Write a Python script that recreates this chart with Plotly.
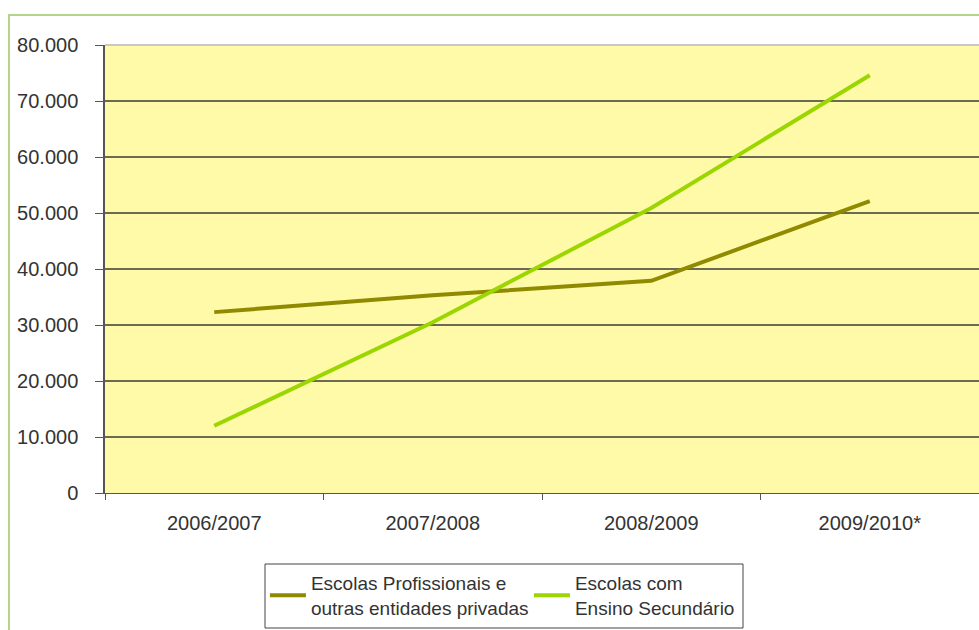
import plotly.graph_objects as go

categories = ["2006/2007", "2007/2008", "2008/2009", "2009/2010*"]
profissionais = [32300, 35300, 37900, 52100]
secundario = [12000, 30500, 50900, 74600]
series_names = ["Escolas Profissionais e<br>outras entidades privadas",
                "Escolas com<br>Ensino Secundário"]
y_ticks = [0, 10000, 20000, 30000, 40000, 50000, 60000, 70000, 80000]

fig = go.Figure()
fig.add_trace(go.Scatter(x=categories, y=profissionais, mode="lines",
                         name=series_names[0],
                         line=dict(color="#8f8a00", width=4)))
fig.add_trace(go.Scatter(x=categories, y=secundario, mode="lines",
                         name=series_names[1],
                         line=dict(color="#9bd600", width=4)))

font = "Liberation Sans, Arial, sans-serif"
fig.update_layout(
    width=979, height=630,
    margin=dict(l=105, r=0, t=45, b=137),
    paper_bgcolor="white",
    plot_bgcolor="#fffaa8",
    separators=",.",
    font=dict(family=font, size=19, color="#333333"),
    showlegend=True,
    legend=dict(orientation="h", x=0.183, xanchor="left", y=-0.1585, yanchor="top",
                bgcolor="rgba(0,0,0,0)", borderwidth=0,
                font=dict(family=font, size=19, color="#333333"),
                itemwidth=36, entrywidth=213, tracegroupgap=0),
    xaxis=dict(type="category", range=[-0.5, 3.5], showgrid=False,
               showline=True, linecolor="#555555", linewidth=1,
               ticks="outside", tickson="boundaries", ticklen=6,
               tickcolor="#555555", ticklabelstandoff=12,
               tickfont=dict(family=font, size=20, color="#333333")),
    yaxis=dict(range=[0, 80000], tickvals=y_ticks, tickformat=",.0f",
               showgrid=True, gridcolor="#6b6b55", gridwidth=1.5,
               showline=True, linecolor="#555555", linewidth=1.5,
               ticks="outside", ticklen=8, tickcolor="#555555",
               ticklabelstandoff=13, zeroline=False,
               tickfont=dict(family=font, size=20, color="#333333")),
    shapes=[
        dict(type="line", xref="paper", yref="paper", x0=0, x1=1, y0=1, y1=1,
             line=dict(color="#c8c8c8", width=2), layer="above"),
        dict(type="rect", xref="paper", yref="paper",
             x0=-96/874, x1=1.01, y0=1 + 30/448, y1=-0.35,
             line=dict(color="#b5d38a", width=2), layer="below"),
        dict(type="rect", xref="paper", yref="paper",
             x0=160/874, x1=638/874, y0=-71/448, y1=-135/448,
             line=dict(color="#444444", width=1), layer="above"),
    ],
)

fig.write_html("out.html")
